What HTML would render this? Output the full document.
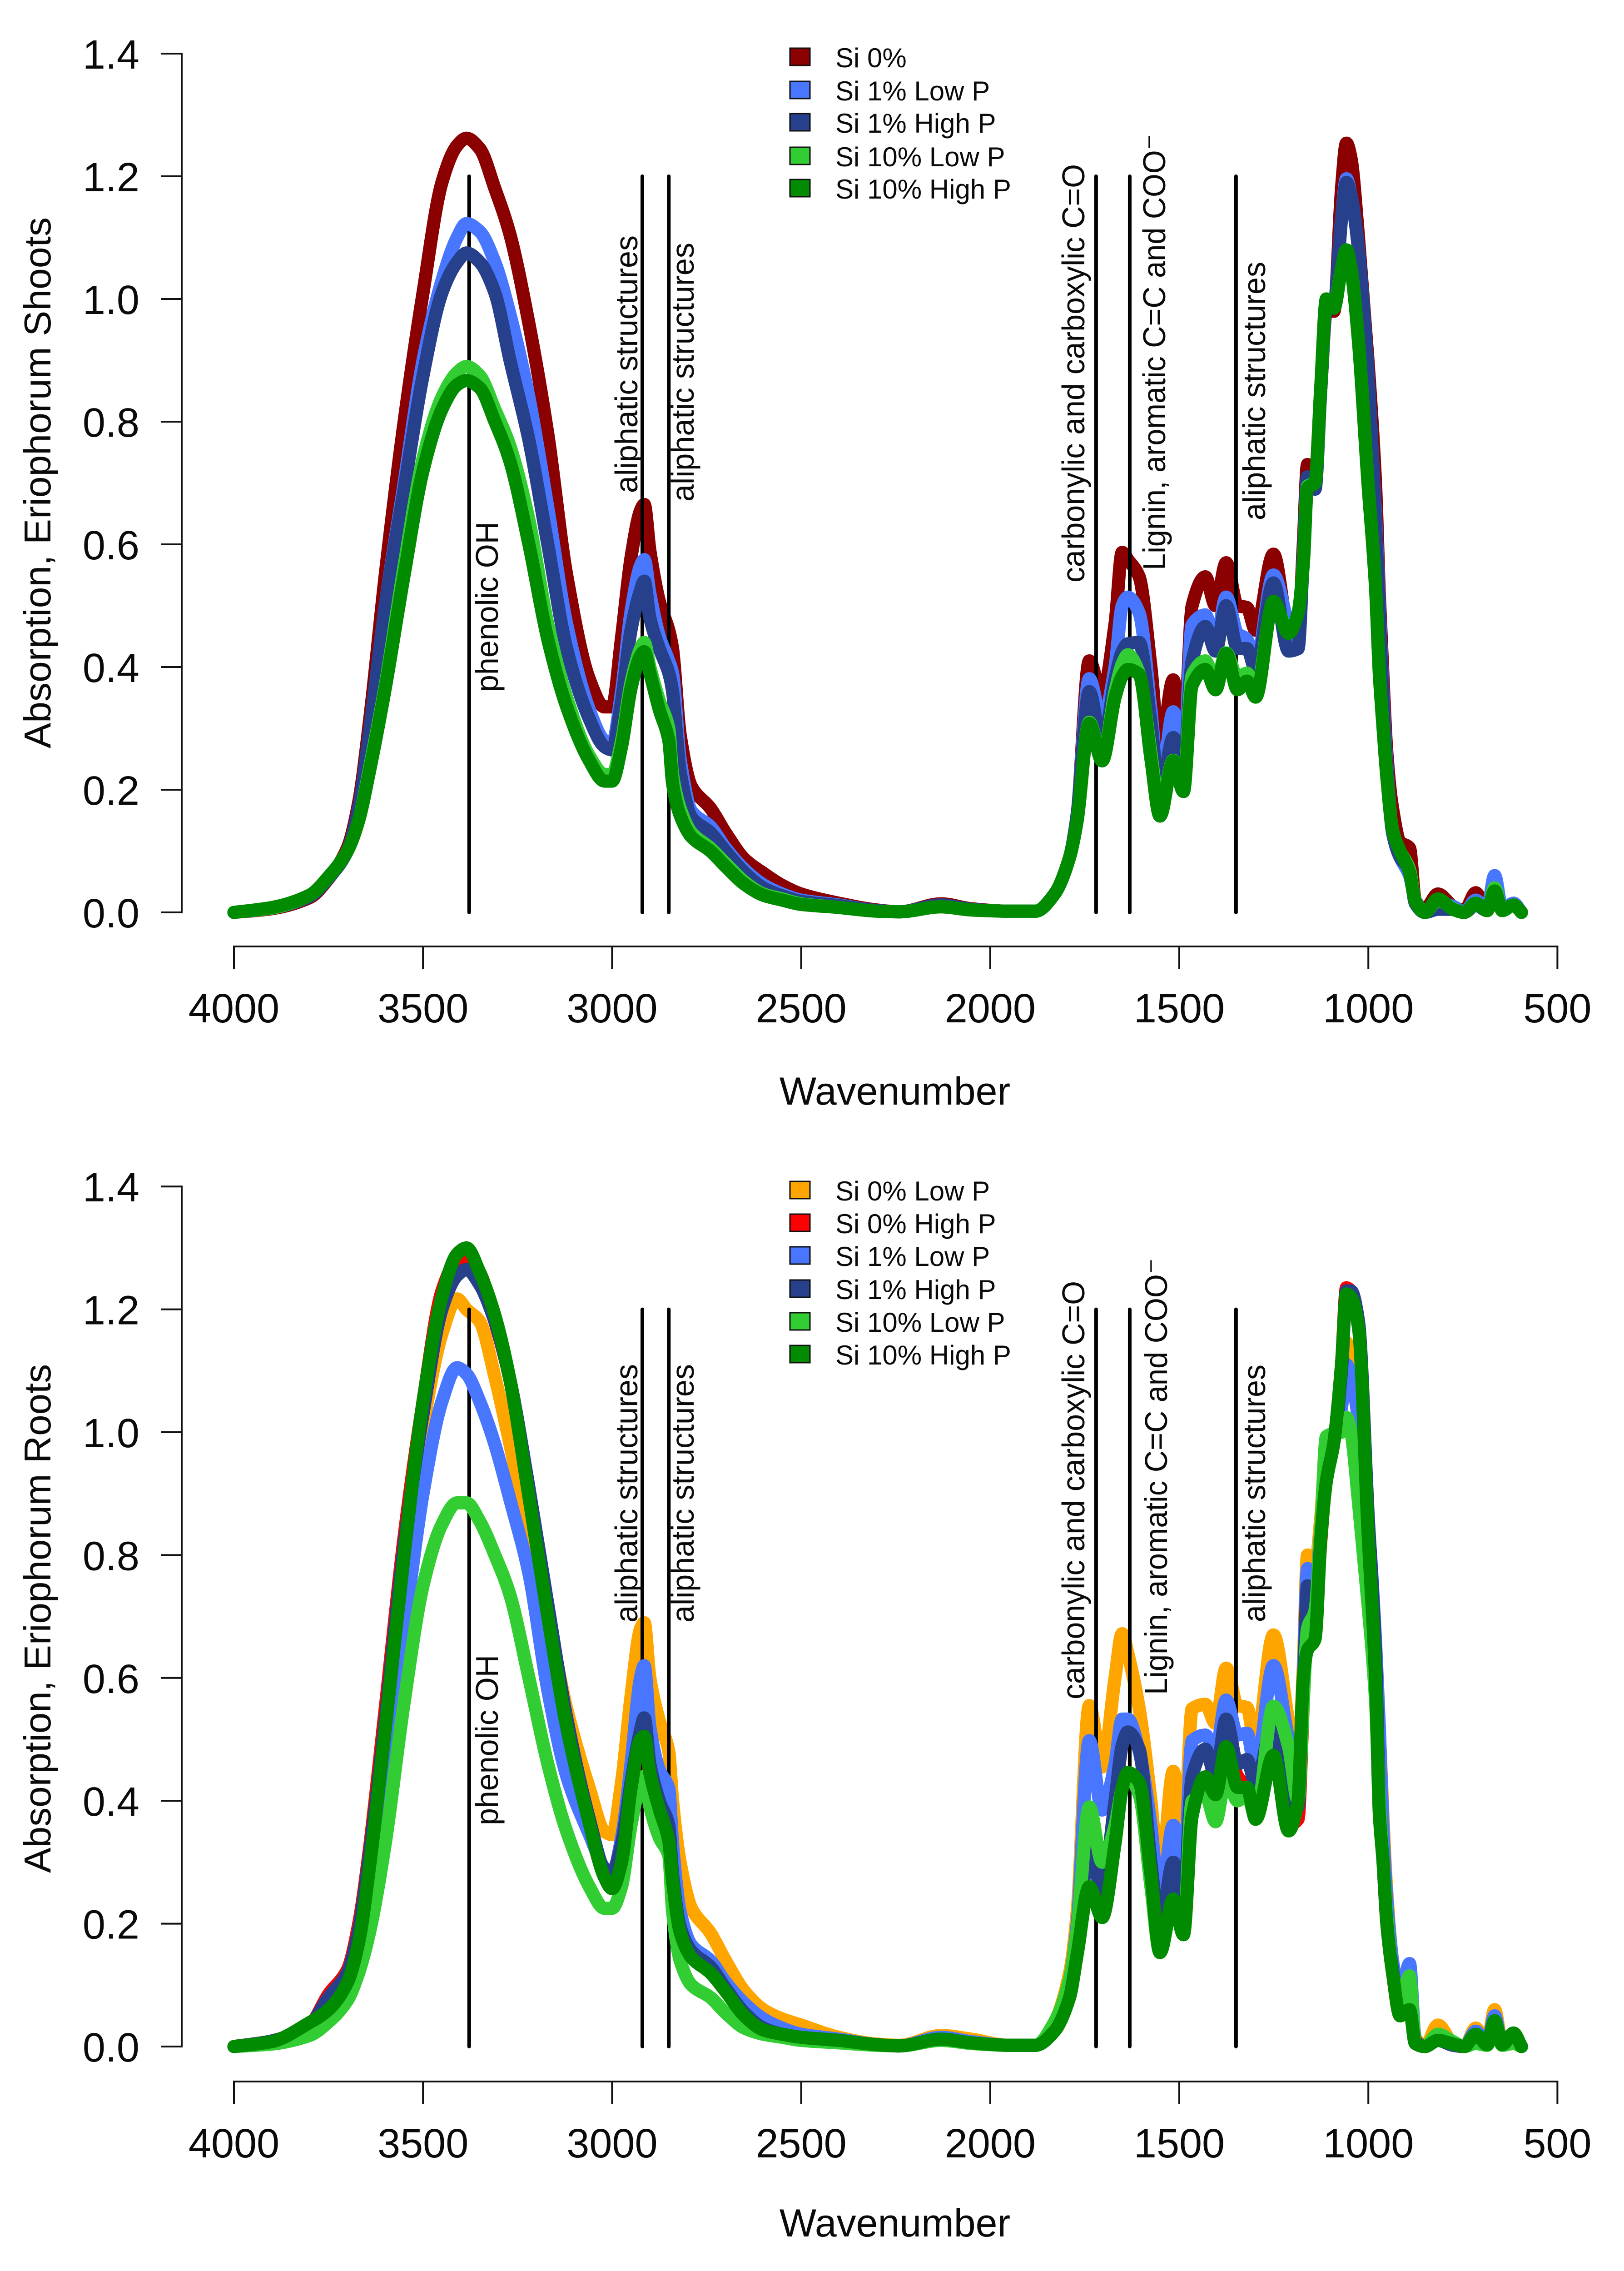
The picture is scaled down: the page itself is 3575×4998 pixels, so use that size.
<!DOCTYPE html>
<html lang="en">
<head>
<meta charset="utf-8">
<title>Absorption spectra, Eriophorum shoots and roots</title>
<style>
html,body{margin:0;padding:0;background:#fff;}
svg{display:block;}
text{font-family:"Liberation Sans",Arial,sans-serif;fill:#0a0a0a;}
</style>
</head>
<body>
<svg id="chart" xmlns="http://www.w3.org/2000/svg" width="3575" height="4998" viewBox="0 0 3575 4998">
<rect x="0" y="0" width="3575" height="4998" fill="#fff"/>

<g id="panel-top"></g>
<g id="panel-bottom"></g>

<g font-size="70">
<text transform="translate(1096,1523) rotate(-90)" textLength="375" lengthAdjust="spacingAndGlyphs">phenolic OH</text>
<text transform="translate(1403,1085) rotate(-90)" textLength="567" lengthAdjust="spacingAndGlyphs">aliphatic structures</text>
<text transform="translate(1527,1104) rotate(-90)" textLength="570" lengthAdjust="spacingAndGlyphs">aliphatic structures</text>
<text transform="translate(2387,1282) rotate(-90)" textLength="921" lengthAdjust="spacingAndGlyphs">carbonylic and carboxylic C=O</text>
<text transform="translate(2565,1255) rotate(-90)" textLength="960" lengthAdjust="spacingAndGlyphs">Lignin, aromatic C=C and COO⁻</text>
<text transform="translate(2785,1145) rotate(-90)" textLength="569" lengthAdjust="spacingAndGlyphs">aliphatic structures</text>
</g>

<g font-size="70">
<text transform="translate(1096,4017) rotate(-90)" textLength="375" lengthAdjust="spacingAndGlyphs">phenolic OH</text>
<text transform="translate(1403,3571) rotate(-90)" textLength="569" lengthAdjust="spacingAndGlyphs">aliphatic structures</text>
<text transform="translate(1527,3571) rotate(-90)" textLength="569" lengthAdjust="spacingAndGlyphs">aliphatic structures</text>
<text transform="translate(2387,3740) rotate(-90)" textLength="921" lengthAdjust="spacingAndGlyphs">carbonylic and carboxylic C=O</text>
<text transform="translate(2569,3730) rotate(-90)" textLength="961" lengthAdjust="spacingAndGlyphs">Lignin, aromatic C=C and COO⁻</text>
<text transform="translate(2785,3570) rotate(-90)" textLength="567" lengthAdjust="spacingAndGlyphs">aliphatic structures</text>
</g>

<text transform="translate(111,1647) rotate(-90)" font-size="83" textLength="1169" lengthAdjust="spacingAndGlyphs">Absorption, Eriophorum Shoots</text>
<text transform="translate(111,4122) rotate(-90)" font-size="83" textLength="1120" lengthAdjust="spacingAndGlyphs">Absorption, Eriophorum Roots</text>
<text x="1970" y="2431" font-size="86" text-anchor="middle">Wavenumber</text>
<text x="1970" y="4922" font-size="86" text-anchor="middle">Wavenumber</text>

<g font-size="60">
<g><rect x="1739" y="106" width="44" height="38" fill="#8b0000" stroke="#111" stroke-width="3"/><text x="1839" y="148">Si 0%</text></g>
<g><rect x="1739" y="179" width="44" height="38" fill="#4876ff" stroke="#111" stroke-width="3"/><text x="1839" y="221">Si 1% Low P</text></g>
<g><rect x="1739" y="250" width="44" height="38" fill="#27408b" stroke="#111" stroke-width="3"/><text x="1839" y="292">Si 1% High P</text></g>
<g><rect x="1739" y="324" width="44" height="38" fill="#32cd32" stroke="#111" stroke-width="3"/><text x="1839" y="366">Si 10% Low P</text></g>
<g><rect x="1739" y="395" width="44" height="38" fill="#008b00" stroke="#111" stroke-width="3"/><text x="1839" y="437">Si 10% High P</text></g>
</g>

<g font-size="60">
<g><rect x="1739" y="2600" width="44" height="38" fill="#ffa500" stroke="#111" stroke-width="3"/><text x="1839" y="2642">Si 0% Low P</text></g>
<g><rect x="1739" y="2672" width="44" height="38" fill="#ff0000" stroke="#111" stroke-width="3"/><text x="1839" y="2714">Si 0% High P</text></g>
<g><rect x="1739" y="2744" width="44" height="38" fill="#4876ff" stroke="#111" stroke-width="3"/><text x="1839" y="2786">Si 1% Low P</text></g>
<g><rect x="1739" y="2817" width="44" height="38" fill="#27408b" stroke="#111" stroke-width="3"/><text x="1839" y="2859">Si 1% High P</text></g>
<g><rect x="1739" y="2889" width="44" height="38" fill="#32cd32" stroke="#111" stroke-width="3"/><text x="1839" y="2931">Si 10% Low P</text></g>
<g><rect x="1739" y="2961" width="44" height="38" fill="#008b00" stroke="#111" stroke-width="3"/><text x="1839" y="3003">Si 10% High P</text></g>
</g>
</svg>

<script>
var wavenumbers = [
4000,3900,3800,3750,3700,3670,3640,3600,
3550,3500,3450,3410,3385,3350,3310,3270,3220,3170,3120,3060,3020,3000,
2975,2950,2925,2915,2900,2875,2850,2840,2820,2790,2740,2700,2650,2600,2550,2500,
2400,2300,2240,2130,2050,1950,1880,
1830,1790,1770,
1738,1704,1670,1651,1636,1606,1575,1551,1516,1489,1466,1431,1404,1376,1346,1321,1298,1251,1211,1186,
1172,1161,1141,1126,1111,1091,1071,1058,1046,
1026,1001,981,971,961,951,936,916,891,876,851,816,776,746,716,686,666,646,616,595];

var xTickValues = [4000,3500,3000,2500,2000,1500,1000,500];
var yTickLabels = ["0.0","0.2","0.4","0.6","0.8","1.0","1.2","1.4"];
var bandPositions = [3378,2920,2850,1720,1631,1350];
var bandTop = 1.2;

/* Shoots */
var shootsSi0 = [
0,.006,.024,.055,.105,.18,.32,.55,
.80,1.01,1.19,1.25,1.262,1.245,1.18,1.105,.96,.78,.55,.38,.335,.335,
.448,.578,.655,.665,.59,.507,.46,.43,.29,.205,.17,.13,.087,.064,.044,.03,
.015,.004,.001,.014,.006,.002,.002,
.03,.09,.16,
.41,.355,.47,.587,.575,.547,.40,.26,.379,.27,.50,.547,.50,.57,.50,.497,.46,.584,.46,.45,
.60,.73,.71,.85,.98,.98,1.18,1.254,1.23,
1.10,.90,.70,.52,.38,.26,.17,.115,.105,.02,.005,.03,.01,.003,.032,.005,.05,.003,.015,0];
var shootsSi1Low = [
0,.007,.026,.056,.10,.17,.30,.50,
.70,.90,1.03,1.10,1.123,1.11,1.06,.975,.84,.66,.47,.33,.28,.275,
.36,.49,.565,.575,.52,.45,.41,.39,.25,.165,.14,.105,.07,.045,.03,.02,
.012,.003,.001,.012,.005,.002,.002,
.03,.09,.16,
.381,.31,.40,.50,.514,.488,.33,.195,.327,.243,.469,.485,.44,.514,.455,.445,.405,.55,.468,.43,
.58,.70,.69,.85,.985,.99,1.13,1.196,1.17,
1.08,.88,.65,.50,.35,.24,.13,.09,.06,.02,0,.015,.01,0,.02,.005,.06,.005,.015,0];
var shootsSi1High = [
0,.007,.026,.056,.10,.17,.30,.50,
.69,.875,1.01,1.06,1.075,1.06,1.01,.90,.77,.60,.43,.315,.27,.265,
.345,.46,.525,.54,.48,.43,.39,.36,.23,.155,.13,.10,.065,.04,.027,.018,
.011,.003,.001,.012,.005,.002,.002,
.03,.09,.16,
.36,.27,.38,.425,.438,.44,.31,.19,.285,.23,.41,.466,.426,.50,.43,.43,.396,.537,.426,.43,
.58,.71,.69,.85,.985,.99,1.13,1.19,1.17,
1.08,.88,.64,.49,.34,.235,.13,.09,.07,.015,0,.005,.005,0,.012,.003,.04,.003,.012,0];
var shootsSi10Low = [
0,.007,.028,.058,.10,.15,.24,.37,
.565,.74,.84,.88,.89,.875,.82,.76,.64,.47,.35,.255,.225,.225,
.28,.375,.43,.44,.40,.345,.30,.225,.17,.13,.105,.08,.05,.03,.022,.014,
.008,.002,.001,.009,.004,.002,.002,
.03,.09,.15,
.31,.25,.36,.405,.42,.39,.26,.165,.248,.203,.387,.41,.374,.423,.383,.39,.36,.505,.459,.488,
.57,.695,.70,.855,1.0,.99,1.05,1.08,1.05,
.93,.70,.53,.39,.30,.22,.135,.10,.07,.019,0,.02,.006,0,.015,.003,.04,.003,.012,0];
var shootsSi10High = [
0,.008,.028,.058,.10,.15,.235,.365,
.55,.72,.82,.86,.867,.855,.80,.735,.60,.445,.335,.247,.214,.214,
.27,.365,.418,.425,.39,.33,.28,.21,.158,.123,.10,.075,.046,.028,.02,.013,
.008,.002,.001,.009,.004,.002,.002,
.03,.09,.15,
.308,.247,.35,.385,.396,.388,.25,.157,.247,.197,.37,.396,.363,.422,.363,.377,.351,.507,.455,.488,
.567,.692,.70,.854,1.0,.985,1.05,1.08,1.05,
.93,.70,.53,.39,.30,.22,.135,.10,.065,.018,0,.022,.005,0,.015,.003,.035,.003,.012,0];

/* Roots */
var rootsSi0Low = [
0,.006,.025,.05,.10,.18,.33,.55,
.81,1.01,1.16,1.217,1.20,1.18,1.09,.98,.83,.70,.55,.42,.35,.345,
.43,.57,.68,.69,.60,.53,.48,.40,.30,.225,.185,.14,.09,.06,.045,.035,
.015,.004,.002,.018,.012,.002,.002,
.04,.12,.22,
.555,.455,.60,.672,.64,.55,.40,.26,.448,.33,.55,.557,.526,.616,.555,.552,.49,.67,.53,.45,
.62,.80,.78,.86,.98,.99,1.06,1.146,1.12,
1.02,.85,.66,.52,.37,.25,.14,.08,.11,.015,0,.035,.005,0,.03,.005,.06,.005,.02,0];
var rootsSi0High = [
0,.009,.035,.085,.125,.20,.33,.55,
.83,1.05,1.23,1.28,1.285,1.26,1.18,1.085,.90,.70,.52,.36,.28,.27,
.31,.42,.50,.51,.44,.385,.33,.27,.19,.15,.125,.095,.055,.03,.02,.015,
.01,.003,.001,.012,.006,.002,.002,
.03,.09,.17,
.26,.23,.34,.43,.44,.42,.28,.16,.24,.19,.38,.43,.41,.49,.44,.42,.38,.47,.36,.37,
.56,.72,.70,.82,.93,.985,1.11,1.235,1.23,
1.18,.85,.63,.39,.30,.20,.12,.05,.06,.01,0,.01,.002,0,.02,.003,.04,.003,.02,0];
var rootsSi1Low = [
0,.007,.028,.06,.105,.175,.30,.49,
.68,.90,1.05,1.105,1.095,1.05,.98,.89,.77,.58,.44,.345,.29,.28,
.34,.46,.60,.62,.52,.45,.42,.33,.22,.165,.14,.105,.07,.045,.03,.02,
.012,.003,.001,.015,.008,.002,.002,
.035,.11,.20,
.498,.385,.46,.533,.533,.48,.36,.23,.36,.275,.498,.507,.48,.564,.507,.51,.45,.62,.50,.44,
.60,.778,.74,.84,.96,.99,1.04,1.11,1.09,
1.02,.86,.66,.52,.35,.24,.14,.08,.135,.01,0,.015,.005,0,.025,.004,.05,.003,.02,0];
var rootsSi1High = [
0,.009,.035,.08,.12,.19,.32,.53,
.815,1.03,1.20,1.255,1.265,1.24,1.18,1.085,.91,.72,.535,.37,.29,.285,
.33,.43,.515,.535,.46,.40,.36,.28,.195,.155,.13,.095,.055,.03,.02,.015,
.01,.003,.001,.012,.006,.002,.002,
.035,.10,.17,
.32,.257,.40,.49,.512,.484,.30,.195,.30,.23,.44,.484,.44,.533,.46,.467,.427,.53,.375,.39,
.57,.75,.72,.83,.95,.985,1.10,1.23,1.23,
1.18,.87,.64,.40,.30,.20,.125,.06,.09,.01,0,.01,.002,0,.02,.003,.04,.003,.02,0];
var rootsSi10Low = [
0,.004,.018,.04,.075,.12,.19,.33,
.56,.75,.85,.885,.885,.855,.80,.735,.60,.46,.35,.26,.225,.225,
.26,.36,.43,.44,.39,.34,.31,.22,.14,.10,.08,.055,.03,.02,.015,.01,
.006,.002,.001,.01,.005,.002,.002,
.04,.11,.19,
.39,.30,.36,.42,.44,.41,.26,.153,.235,.186,.40,.41,.366,.44,.40,.41,.374,.554,.488,.40,
.56,.68,.71,.84,.993,.998,1.00,1.024,1.00,
.885,.72,.563,.40,.30,.21,.12,.07,.115,.005,0,.02,.008,0,.005,.002,.03,.002,.005,0];
var rootsSi10High = [
0,.008,.039,.06,.104,.17,.30,.516,
.80,1.05,1.22,1.29,1.30,1.26,1.19,1.085,.895,.70,.52,.363,.275,.257,
.30,.42,.50,.505,.445,.386,.334,.27,.186,.145,.12,.09,.05,.027,.02,.015,
.01,.003,.001,.012,.006,.002,.002,
.025,.08,.15,
.26,.21,.33,.42,.446,.43,.28,.153,.24,.182,.375,.439,.41,.488,.422,.422,.37,.474,.351,.40,
.60,.645,.663,.823,.92,.984,1.11,1.225,1.22,
1.17,.84,.60,.38,.30,.20,.12,.05,.06,.005,0,.01,.004,0,.02,.003,.042,.003,.022,0];

var NS = "http://www.w3.org/2000/svg";

function xPos(w) { return 515 + (4000 - w) * 0.8324; }
function makeYPos(zero, perUnit) { return function (v) { return zero - v * perUnit; }; }

function addLine(parent, x1, y1, x2, y2, width, cap) {
  var l = document.createElementNS(NS, "line");
  l.setAttribute("x1", x1);
  l.setAttribute("y1", y1);
  l.setAttribute("x2", x2);
  l.setAttribute("y2", y2);
  l.setAttribute("stroke", "#111");
  l.setAttribute("stroke-width", width);
  l.setAttribute("stroke-linecap", cap || "butt");
  parent.appendChild(l);
  return l;
}

/* Monotone cubic through the data so peaks stay round and never overshoot */
function curvePath(values, yPos) {
  var n = wavenumbers.length, xs = [], ys = [], d = [], m = [], i;
  for (i = 0; i < n; i++) {
    xs.push(xPos(wavenumbers[i]));
    ys.push(yPos(values[i]));
  }
  for (i = 0; i < n - 1; i++) d.push((ys[i + 1] - ys[i]) / (xs[i + 1] - xs[i]));
  m.push(d[0]);
  for (i = 1; i < n - 1; i++) {
    m.push(d[i - 1] * d[i] <= 0 ? 0 : 2 * d[i - 1] * d[i] / (d[i - 1] + d[i]));
  }
  m.push(d[n - 2]);
  var out = "M" + xs[0].toFixed(1) + " " + ys[0].toFixed(1);
  for (i = 0; i < n - 1; i++) {
    var h = (xs[i + 1] - xs[i]) / 3;
    out += "C" + (xs[i] + h).toFixed(1) + " " + (ys[i] + m[i] * h).toFixed(1) +
      " " + (xs[i + 1] - h).toFixed(1) + " " + (ys[i + 1] - m[i + 1] * h).toFixed(1) +
      " " + xs[i + 1].toFixed(1) + " " + ys[i + 1].toFixed(1);
  }
  return out;
}

function addCurve(parent, values, color, yPos, name) {
  var p = document.createElementNS(NS, "path");
  p.setAttribute("d", curvePath(values, yPos));
  p.setAttribute("fill", "none");
  p.setAttribute("stroke", color);
  p.setAttribute("stroke-width", "29");
  p.setAttribute("stroke-linejoin", "round");
  p.setAttribute("stroke-linecap", "round");
  
  
  parent.appendChild(p);
}

function drawAxes(g, yPos, axisY) {
  var yAxis = addLine(g, 400, yPos(0), 400, yPos(1.4), 4, "square");
  
  
  yTickLabels.forEach(function (label) {
    var v = parseFloat(label);
    var tick = addLine(g, 355, yPos(v), 400, yPos(v), 4);
    
    
    var t = document.createElementNS(NS, "text");
    t.setAttribute("x", 307);
    t.setAttribute("y", yPos(v) + 33);
    t.setAttribute("font-size", 90);
    t.setAttribute("text-anchor", "end");
    
    
    t.textContent = label;
    g.appendChild(t);
  });
  var xAxis = addLine(g, xPos(4000), axisY, xPos(500), axisY, 4, "square");
  
  
  xTickValues.forEach(function (w) {
    var tick = addLine(g, xPos(w), axisY, xPos(w), axisY + 49, 4);
    
    
    var t = document.createElementNS(NS, "text");
    t.setAttribute("x", xPos(w));
    t.setAttribute("y", axisY + 167);
    t.setAttribute("font-size", 90);
    t.setAttribute("text-anchor", "middle");
    
    
    t.textContent = String(w);
    g.appendChild(t);
  });
}

function drawBands(g, yPos) {
  bandPositions.forEach(function (w) {
    var b = addLine(g, xPos(w), yPos(bandTop), xPos(w), yPos(0), 8, "round");
    b.setAttribute("stroke", "#000");
    
    
  });
}

var topY = makeYPos(2008, 1350);
var topGroup = document.getElementById("panel-top");
drawAxes(topGroup, topY, 2083);
addCurve(topGroup, shootsSi0, "#8b0000", topY, "series-si-0");
drawBands(topGroup, topY);
addCurve(topGroup, shootsSi1Low, "#4876ff", topY, "series-si-1-low-p");
addCurve(topGroup, shootsSi1High, "#27408b", topY, "series-si-1-high-p");
addCurve(topGroup, shootsSi10Low, "#32cd32", topY, "series-si-10-low-p");
addCurve(topGroup, shootsSi10High, "#008b00", topY, "series-si-10-high-p");

var botY = makeYPos(4504, 1352);
var botGroup = document.getElementById("panel-bottom");
drawAxes(botGroup, botY, 4581);
addCurve(botGroup, rootsSi0Low, "#ffa500", botY, "series-si-0-low-p");
drawBands(botGroup, botY);
addCurve(botGroup, rootsSi0High, "#ff0000", botY, "series-si-0-high-p");
addCurve(botGroup, rootsSi1Low, "#4876ff", botY, "series-si-1-low-p");
addCurve(botGroup, rootsSi1High, "#27408b", botY, "series-si-1-high-p");
addCurve(botGroup, rootsSi10Low, "#32cd32", botY, "series-si-10-low-p");
addCurve(botGroup, rootsSi10High, "#008b00", botY, "series-si-10-high-p");
</script>
</body>
</html>
